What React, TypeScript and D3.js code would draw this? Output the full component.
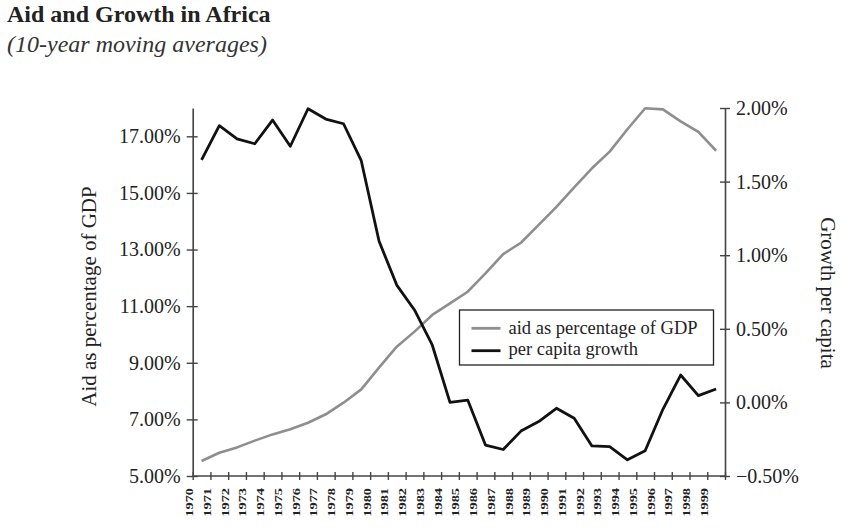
import { useEffect, useRef } from 'react'
import * as d3 from 'd3'

const YEARS = [
  1970, 1971, 1972, 1973, 1974, 1975, 1976, 1977, 1978, 1979,
  1980, 1981, 1982, 1983, 1984, 1985, 1986, 1987, 1988, 1989,
  1990, 1991, 1992, 1993, 1994, 1995, 1996, 1997, 1998, 1999,
]
// aid as % of GDP (left axis)
const AID = [
  5.53, 5.82, 6.01, 6.25, 6.47, 6.65, 6.88, 7.18, 7.59, 8.06,
  8.83, 9.57, 10.1, 10.69, 11.1, 11.51, 12.16, 12.84, 13.24, 13.87,
  14.51, 15.2, 15.87, 16.46, 17.25, 17.99, 17.95, 17.53, 17.16, 16.49,
]
// per capita growth, % (right axis)
const GROWTH = [
  1.647, 1.88, 1.79, 1.757, 1.918, 1.74, 1.995, 1.925, 1.893, 1.642,
  1.096, 0.797, 0.628, 0.39, 0.0, 0.016, -0.29, -0.32, -0.195, -0.13,
  -0.04, -0.108, -0.296, -0.3, -0.39, -0.328, -0.047, 0.186, 0.046, 0.091,
]
const AID_TICKS = [5, 7, 9, 11, 13, 15, 17]
const GROWTH_TICKS = [-0.5, 0, 0.5, 1, 1.5, 2]
const LEGEND = ['aid as percentage of GDP', 'per capita growth']

export default function App() {
  const svgRef = useRef<SVGSVGElement>(null)

  useEffect(() => {
    const svg = d3.select(svgRef.current!)
    svg.selectAll('*').remove()
    const font = '"Liberation Serif", "Times New Roman", serif'
    const ink = '#222'
    const axisCol = '#444'
    const L = 192.7, R = 725, T = 108, B = 476

    const x = d3.scaleLinear().domain([1970, 2000]).range([L, R])
    const yAid = d3.scaleLinear().domain([5, 18]).range([B, T])
    const yGr = d3.scaleLinear().domain([-0.5, 2]).range([B, T])
    const pct = d3.format('.2f')

    // titles
    svg.append('text').attr('x', 7).attr('y', 22).attr('font-family', font)
      .attr('font-size', 24).attr('font-weight', 'bold').attr('fill', ink)
      .text('Aid and Growth in Africa')
    svg.append('text').attr('x', 7).attr('y', 52).attr('font-family', font)
      .attr('font-size', 24).attr('font-style', 'italic').attr('fill', '#333')
      .text('(10-year moving averages)')

    // left axis
    const gl = svg.append('g').attr('transform', `translate(${L},0)`)
      .call(d3.axisLeft(yAid).tickValues(AID_TICKS).tickSizeOuter(0)
        .tickFormat((d) => pct(d as number) + '%'))
    // right axis
    const gr = svg.append('g').attr('transform', `translate(${R},0)`)
      .call(d3.axisRight(yGr).tickValues(GROWTH_TICKS).tickSizeOuter(0)
        .tickFormat((d) => pct(d as number) + '%'))
    // bottom axis
    const gb = svg.append('g').attr('transform', `translate(0,${B})`)
      .call(d3.axisBottom(x).tickValues([...YEARS, 2000]).tickSizeOuter(0)
        .tickFormat((d) => (YEARS.includes(d as number) ? String(d) : '')))

    ;[gl, gr, gb].forEach((g) => {
      g.select('.domain').attr('stroke', axisCol).attr('stroke-width', 1.6)
      g.selectAll('.tick line').attr('stroke', axisCol).attr('stroke-width', 1.4)
      g.selectAll('text').attr('font-family', font).attr('fill', ink)
    })
    gl.selectAll('.tick line').attr('x1', -6).attr('x2', 5)
    gl.selectAll('.tick text').attr('x', -12).attr('font-size', 20)
    gr.selectAll('.tick line').attr('x1', -5).attr('x2', 5)
    gr.selectAll('.tick text').attr('x', 11).attr('font-size', 20)
    gb.selectAll('.tick line').attr('y1', -4).attr('y2', 4)
    gb.selectAll('.tick text')
      .attr('transform', 'rotate(-90)').attr('x', -12).attr('y', 0).attr('dy', 0)
      .attr('text-anchor', 'end').attr('font-size', 10.5).attr('font-weight', 'bold')
      .attr('textLength', 28.7).attr('lengthAdjust', 'spacingAndGlyphs')
    gb.select('.domain').attr('d', `M${L},0H${R}`)

    // axis titles
    svg.append('text').attr('transform', `translate(96,${(T + B) / 2 + 4.5}) rotate(-90)`)
      .attr('text-anchor', 'middle').attr('font-family', font).attr('font-size', 21)
      .attr('fill', ink).text('Aid as percentage of GDP')
    svg.append('text').attr('transform', `translate(821,${(T + B) / 2 + 1}) rotate(90)`)
      .attr('text-anchor', 'middle').attr('font-family', font).attr('font-size', 21)
      .attr('fill', ink).text('Growth per capita')

    // lines
    const px = (i: number) => x(YEARS[i] + 0.5)
    svg.append('path').datum(AID).attr('fill', 'none').attr('stroke', '#8e8e8e')
      .attr('stroke-width', 2.6).attr('stroke-linejoin', 'round')
      .attr('d', d3.line<number>().x((_, i) => px(i)).y((d) => yAid(d)))
    svg.append('path').datum(GROWTH).attr('fill', 'none').attr('stroke', '#111')
      .attr('stroke-width', 2.8).attr('stroke-linejoin', 'round')
      .attr('d', d3.line<number>().x((_, i) => px(i)).y((d) => yGr(d)))

    // legend
    const lg = svg.append('g').attr('transform', 'translate(459.5,310)')
    lg.append('rect').attr('width', 254).attr('height', 55).attr('fill', 'white')
      .attr('stroke', '#222').attr('stroke-width', 1.3)
    ;['#8e8e8e', '#111'].forEach((c, i) => {
      lg.append('line').attr('x1', 12).attr('x2', 41).attr('y1', 18.3 + i * 22.4)
        .attr('y2', 18.3 + i * 22.4).attr('stroke', c).attr('stroke-width', 2.8)
      lg.append('text').attr('x', 49).attr('y', 24.3 + i * 21).attr('font-family', font)
        .attr('font-size', 18.5).attr('fill', ink).text(LEGEND[i])
    })

    return () => { svg.selectAll('*').remove() }
  }, [])

  return (
    <svg ref={svgRef} width={853} height={528}
      style={{ position: 'absolute', left: 0, top: 0, background: 'white' }} />
  )
}
